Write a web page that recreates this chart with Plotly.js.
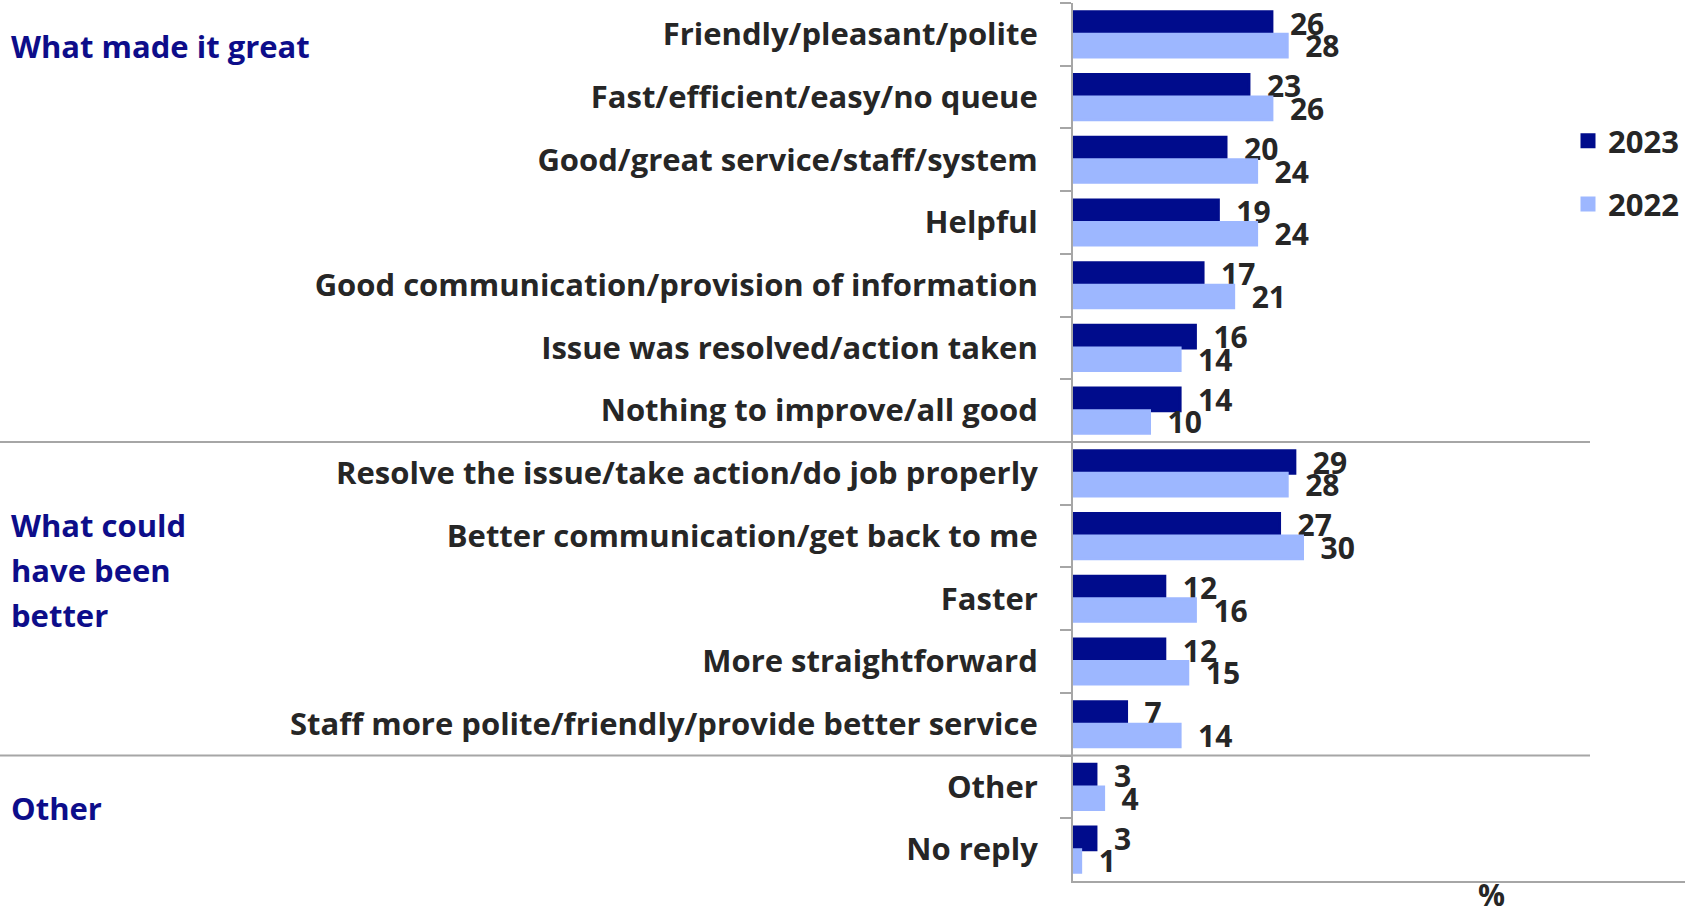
<!DOCTYPE html>
<html>
<head>
<meta charset="utf-8">
<script src="https://cdn.plot.ly/plotly-3.0.1.min.js"></script>
<style>html,body{margin:0;padding:0;background:#fff;}</style>
</head>
<body>
<div id="chart" style="width:1685px;height:918px;"></div>
<script>
const categories = [
  "Friendly/pleasant/polite",
  "Fast/efficient/easy/no queue",
  "Good/great service/staff/system",
  "Helpful",
  "Good communication/provision of information",
  "Issue was resolved/action taken",
  "Nothing to improve/all good",
  "Resolve the issue/take action/do job properly",
  "Better communication/get back to me",
  "Faster",
  "More straightforward",
  "Staff more polite/friendly/provide better service",
  "Other",
  "No reply"
];
const values2023 = [26, 23, 20, 19, 17, 16, 14, 29, 27, 12, 12, 7, 3, 3];
const values2022 = [28, 26, 24, 24, 21, 14, 10, 28, 30, 16, 15, 14, 4, 1];
const seriesNames = ["2023", "2022"];
const groupLabels = ["What made it great", "What could", "have been", "better", "Other"];
const axisTitle = "%";

const FONT = "'Open Sans', 'Noto Sans', 'DejaVu Sans', sans-serif";
const TXT = "#262626";
const NAVY = "#0D0D8A";
const C2023 = "#000C8C";
const C2022 = "#9DB7FF";

const L = 1073, W = 612, T = 3, H = 878;
const px = v => (v - L) / W;          // pixel x -> paper x
const py = v => (T + H - v) / H;       // pixel y -> paper y

function barTrace(name, vals, color, group) {
  return {
    type: "bar", orientation: "h", name: name,
    y: categories, x: vals,
    marker: {color: color, line: {color: color, width: 3}},
    text: vals.map(String), texttemplate: "\u2002%{text}",
    textposition: "outside", constraintext: "none", cliponaxis: false,
    textfont: {family: FONT, size: 30, color: TXT, weight: 700},
    legendgroup: group, hoverinfo: "x+y"
  };
}
const traces = [
  barTrace(seriesNames[0], values2023, C2023, "a"),
  barTrace(seriesNames[1], values2022, C2022, "b")
];

const annotations = [
  {text: "<b>" + groupLabels[0] + "</b>", x: px(9), y: py(46)},
  {text: "<b>" + groupLabels[1] + "</b>", x: px(9), y: py(525)},
  {text: "<b>" + groupLabels[2] + "</b>", x: px(9), y: py(570)},
  {text: "<b>" + groupLabels[3] + "</b>", x: px(9), y: py(615)},
  {text: "<b>" + groupLabels[4] + "</b>", x: px(9), y: py(808)}
].map(a => Object.assign({
  xref: "paper", yref: "paper", xanchor: "left", yanchor: "middle",
  showarrow: false, font: {family: FONT, size: 31, color: NAVY}
}, a));

annotations.push({
  text: "<b>" + axisTitle + "</b>", xref: "paper", yref: "paper",
  x: px(1491), y: py(917), xanchor: "center", yanchor: "bottom",
  showarrow: false, font: {family: FONT, size: 30, color: TXT}
});

const sepLine = {color: "#A6A6A6", width: 2};
const shapes = [
  {type: "line", xref: "paper", yref: "y", x0: px(0), x1: px(1590), y0: 6.5, y1: 6.5, line: sepLine, layer: "above"},
  {type: "line", xref: "paper", yref: "y", x0: px(0), x1: px(1590), y0: 11.5, y1: 11.5, line: sepLine, layer: "above"}
];

const layout = {
  width: 1685, height: 918,
  margin: {l: L, r: 1685 - L - W, t: T, b: 918 - T - H, pad: 0},
  paper_bgcolor: "#fff", plot_bgcolor: "#fff",
  barmode: "group", bargap: 0.28, bargroupgap: 0,
  font: {family: FONT, color: TXT},
  showlegend: true,
  legend: {
    x: px(1568), y: py(114), xanchor: "left", yanchor: "top",
    traceorder: "grouped", tracegroupgap: 20,
    font: {family: FONT, size: 31, color: TXT, weight: 700},
    bgcolor: "rgba(0,0,0,0)", itemwidth: 30
  },
  xaxis: {
    range: [0, 80], showgrid: false, zeroline: false,
    showticklabels: false, ticks: "",
    showline: true, linecolor: "#A6A6A6", linewidth: 2, fixedrange: true
  },
  yaxis: {
    type: "category", categoryorder: "array", categoryarray: categories,
    autorange: "reversed", showgrid: false, zeroline: false,
    showline: true, linecolor: "#A6A6A6", linewidth: 2,
    ticks: "outside", tickson: "boundaries", ticklen: 11, tickcolor: "#A6A6A6", tickwidth: 2,
    ticklabelstandoff: 27,
    tickfont: {family: FONT, size: 31, color: TXT, weight: 700},
    fixedrange: true
  },
  annotations: annotations,
  shapes: shapes
};

Plotly.newPlot("chart", traces, layout, {displayModeBar: false, staticPlot: true});
</script>
</body>
</html>
